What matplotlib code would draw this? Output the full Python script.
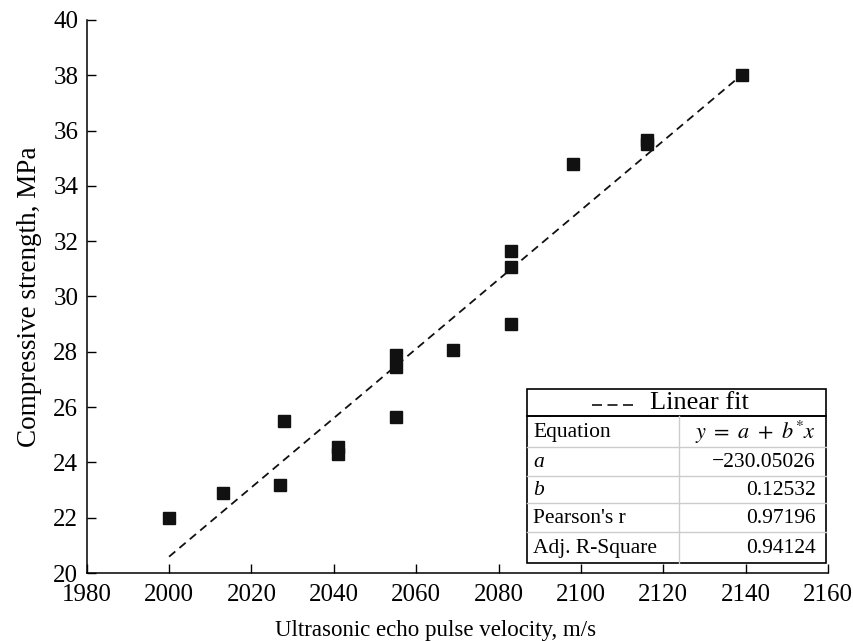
import matplotlib
matplotlib.use("Agg")
import matplotlib.pyplot as plt
from matplotlib.patches import Rectangle
from matplotlib.lines import Line2D
import numpy as np

velocity = [2000, 2013, 2027, 2028, 2041, 2041, 2055, 2055, 2055, 2069,
            2083, 2083, 2083, 2098, 2116, 2116, 2139]
strength = [22.0, 22.9, 23.2, 25.5, 24.3, 24.55, 25.65, 27.45, 27.9, 28.05,
            29.0, 31.05, 31.65, 34.8, 35.5, 35.65, 38.0]

fit_a = -230.05026
fit_b = 0.12532
table_labels = ["Equation", "a", "b", "Pearson's r", "Adj. R-Square"]
table_values = [r"$y\ =\ a\ +\ b^{*}x$", "\u2212230.05026", "0.12532", "0.97196", "0.94124"]

plt.rcParams['font.family'] = ['Liberation Serif', 'DejaVu Serif']
plt.rcParams['mathtext.fontset'] = 'stix'

W, H = 854, 641
fig = plt.figure(figsize=(W / 100, H / 100), dpi=100)
ax = fig.add_axes([86.7 / W, 1 - 573 / H, (828 - 86.7) / W, (573 - 20) / H])

ax.plot(velocity, strength, 's', color='#111111', markersize=8.6, zorder=3)

xf = np.array([min(velocity), max(velocity)])
ax.plot(xf, fit_a + fit_b * xf, color='#111111', lw=1.3,
        linestyle=(0, (4.5, 3)), zorder=2)

ax.set_xlim(1980, 2160)
ax.set_ylim(20, 40)
ax.set_xticks(np.arange(1980, 2161, 20))
ax.set_yticks(np.arange(20, 41, 2))
for s in ['top', 'right']:
    ax.spines[s].set_visible(False)
for s in ['left', 'bottom']:
    ax.spines[s].set_linewidth(1.1)
ax.tick_params(direction='in', length=6.5, width=1.0, labelsize=18)
ax.tick_params(axis='x', pad=8)
ax.tick_params(axis='y', pad=6)
ax.set_xlabel("Ultrasonic echo pulse velocity, m/s", fontsize=16.5, labelpad=10)
ax.xaxis.label.set_x(0.471)
ax.set_ylabel("Compressive strength, MPa", fontsize=19.5, labelpad=8)


# fit table drawn in pixel coordinates
def fx(px):
    return px / W


def fy(py):
    return 1 - py / H


left, right, mid = 527, 826, 679
fig.add_artist(Rectangle((fx(left), fy(415.7)), fx(right - left), (415.7 - 389) / H,
                         transform=fig.transFigure, fill=False, ec='black', lw=1.2))
fig.add_artist(Line2D([fx(592), fx(633)], [fy(405), fy(405)], transform=fig.transFigure,
                      color='#111111', lw=1.2, linestyle=(0, (6, 3.3))))
fig.text(fx(650), fy(403), "Linear fit", fontsize=19, ha='left', va='center')

row_edges = [415.7, 447.3, 475.7, 503.3, 531.7, 563.3]
for k in range(1, len(row_edges) - 1):
    fig.add_artist(Line2D([fx(left), fx(right)], [fy(row_edges[k])] * 2,
                          transform=fig.transFigure, color='#cccccc', lw=1.0))
fig.add_artist(Line2D([fx(mid), fx(mid)], [fy(row_edges[0]), fy(row_edges[-1])],
                      transform=fig.transFigure, color='#cccccc', lw=1.0))
fig.add_artist(Rectangle((fx(left), fy(row_edges[-1])), fx(right - left),
                         (row_edges[-1] - row_edges[0]) / H,
                         transform=fig.transFigure, fill=False, ec='black', lw=1.2))

for k, (lab, val) in enumerate(zip(table_labels, table_values)):
    yc = fy((row_edges[k] + row_edges[k + 1]) / 2 + 1)
    style = 'italic' if lab in ('a', 'b') else 'normal'
    fig.text(fx(533), yc, lab, fontsize=15.5, style=style, ha='left', va='center')
    fig.text(fx(816), yc, val, fontsize=16 if k == 0 else 15.5, ha='right', va='center')

fig.savefig('out.png', dpi=100)
